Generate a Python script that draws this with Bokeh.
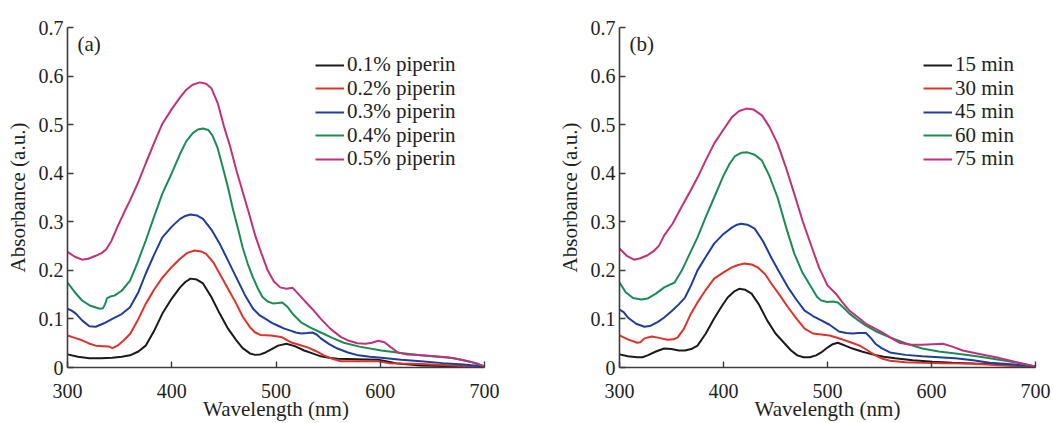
from bokeh.plotting import figure
from bokeh.models import Range1d, FixedTicker, Legend, LegendItem, Label
from bokeh.layouts import row
from bokeh.embed import file_html
from bokeh.resources import INLINE

# ---------------- data: panel (a), piperin concentration ----------------
a_labels = ["0.1% piperin", "0.2% piperin", "0.3% piperin", "0.4% piperin", "0.5% piperin"]

a1_nm = [300, 310, 321, 332, 343, 352, 360, 368, 375, 383, 391, 400, 408, 413, 418, 424, 430, 438, 446, 454,
         462, 468, 475, 480, 485, 490, 495, 502, 510, 518, 527, 535, 543, 551, 559, 578, 598, 608, 617, 628,
         639, 660, 680, 700]
a1_abs = [0.027, 0.022, 0.019, 0.019, 0.02, 0.022, 0.025, 0.033, 0.045, 0.075, 0.111, 0.142, 0.165, 0.176, 0.183, 0.181, 0.173, 0.145, 0.111, 0.08,
          0.056, 0.04, 0.029, 0.026, 0.027, 0.031, 0.037, 0.045, 0.049, 0.044, 0.035, 0.029, 0.023, 0.02, 0.018, 0.017, 0.016, 0.012, 0.008, 0.006,
          0.004, 0.003, 0.002, 0.0]

a2_nm = [300, 307, 314, 320, 327, 334, 340, 343, 348, 354, 360, 368, 375, 383, 391, 400, 408, 415, 422, 428,
         433, 440, 446, 454, 462, 468, 475, 480, 485, 495, 505, 514, 522, 531, 538, 546, 554, 562, 575, 598,
         608, 620, 639, 660, 680, 700]
a2_abs = [0.066, 0.061, 0.056, 0.05, 0.045, 0.044, 0.043, 0.04, 0.045, 0.056, 0.069, 0.1, 0.131, 0.16, 0.185, 0.207, 0.224, 0.236, 0.241, 0.239,
          0.234, 0.216, 0.193, 0.162, 0.131, 0.105, 0.083, 0.072, 0.067, 0.066, 0.063, 0.052, 0.047, 0.041, 0.034, 0.025, 0.018, 0.013, 0.013, 0.013,
          0.009, 0.008, 0.007, 0.005, 0.003, 0.0]

a3_nm = [300, 304, 308, 314, 321, 327, 335, 343, 352, 360, 368, 375, 383, 391, 400, 408, 413, 418, 424, 430,
         438, 446, 454, 462, 470, 478, 484, 490, 496, 502, 508, 514, 519, 524, 530, 535, 539, 543, 551, 559,
         569, 579, 590, 601, 620, 639, 660, 680, 700]
a3_abs = [0.121, 0.117, 0.111, 0.097, 0.085, 0.084, 0.091, 0.1, 0.11, 0.124, 0.155, 0.193, 0.232, 0.268, 0.29, 0.306, 0.312, 0.315, 0.313, 0.306,
          0.284, 0.255, 0.22, 0.185, 0.15, 0.121, 0.108, 0.1, 0.092, 0.086, 0.08, 0.076, 0.072, 0.07, 0.071, 0.072, 0.068, 0.06, 0.048, 0.039,
          0.031, 0.025, 0.022, 0.02, 0.016, 0.013, 0.009, 0.006, 0.002]

a4_nm = [300, 307, 314, 322, 331, 334, 336, 338, 341, 345, 352, 360, 367, 375, 383, 391, 400, 408, 414, 420,
         425, 430, 435, 439, 444, 449, 454, 459, 464, 468, 473, 478, 483, 487, 492, 497, 502, 506, 511, 517,
         524, 533, 543, 554, 565, 580, 601, 620, 639, 655, 671, 686, 700]
a4_abs = [0.175, 0.155, 0.138, 0.127, 0.121, 0.122, 0.13, 0.143, 0.146, 0.148, 0.158, 0.179, 0.215, 0.261, 0.31, 0.358, 0.4, 0.44, 0.466, 0.482,
          0.49, 0.492, 0.489, 0.478, 0.452, 0.412, 0.37, 0.323, 0.282, 0.247, 0.213, 0.185, 0.161, 0.145, 0.136, 0.132, 0.133, 0.134, 0.125, 0.108,
          0.093, 0.082, 0.072, 0.061, 0.051, 0.043, 0.035, 0.03, 0.025, 0.022, 0.019, 0.012, 0.002]

a5_nm = [300, 307, 314, 320, 327, 333, 337, 342, 348, 354, 360, 368, 375, 383, 391, 400, 408, 414, 420, 427,
         433, 438, 444, 450, 456, 462, 468, 474, 480, 486, 492, 498, 504, 510, 516, 522, 528, 535, 543, 552,
         562, 570, 578, 586, 592, 598, 604, 610, 617, 625, 632, 639, 652, 665, 680, 692, 700]
a5_abs = [0.238, 0.228, 0.222, 0.224, 0.23, 0.236, 0.243, 0.26, 0.29, 0.318, 0.344, 0.382, 0.42, 0.462, 0.502, 0.532, 0.556, 0.572, 0.582, 0.587,
          0.584, 0.575, 0.545, 0.497, 0.455, 0.406, 0.362, 0.318, 0.272, 0.235, 0.2, 0.177, 0.165, 0.162, 0.164, 0.15, 0.136, 0.12, 0.1, 0.08,
          0.063, 0.055, 0.05, 0.049, 0.051, 0.055, 0.052, 0.042, 0.031, 0.027, 0.026, 0.025, 0.023, 0.021, 0.015, 0.009, 0.002]

# ---------------- data: panel (b), reaction time ----------------
b_labels = ["15 min", "30 min", "45 min", "60 min", "75 min"]

b1_nm = [300, 308, 317, 322, 327, 335, 343, 350, 357, 363, 369, 375, 383, 391, 398, 404, 410, 415, 421, 427,
         434, 442, 450, 459, 465, 471, 477, 483, 489, 494, 500, 505, 510, 517, 524, 533, 543, 554, 565, 582,
         601, 620, 640, 656, 680, 700]
b1_abs = [0.027, 0.023, 0.021, 0.021, 0.025, 0.033, 0.039, 0.038, 0.035, 0.035, 0.038, 0.045, 0.07, 0.101, 0.125, 0.144, 0.156, 0.162, 0.16, 0.152,
          0.13, 0.097, 0.07, 0.049, 0.035, 0.025, 0.021, 0.021, 0.025, 0.031, 0.041, 0.048, 0.051, 0.045, 0.039, 0.033, 0.027, 0.022, 0.019, 0.015,
          0.012, 0.01, 0.008, 0.007, 0.004, 0.0]

b2_nm = [300, 308, 317, 320, 324, 331, 338, 346, 352, 356, 362, 368, 375, 383, 391, 400, 408, 414, 420, 427,
         433, 440, 446, 454, 462, 470, 478, 486, 494, 502, 514, 522, 531, 538, 546, 553, 560, 575, 591, 610,
         639, 660, 680, 700]
b2_abs = [0.066, 0.058, 0.051, 0.052, 0.06, 0.064, 0.061, 0.057, 0.058, 0.062, 0.08, 0.108, 0.134, 0.16, 0.183, 0.196, 0.206, 0.211, 0.214, 0.212,
          0.206, 0.192, 0.173, 0.149, 0.124, 0.101, 0.08, 0.07, 0.068, 0.066, 0.058, 0.052, 0.045, 0.036, 0.025, 0.018, 0.014, 0.011, 0.01, 0.009,
          0.008, 0.005, 0.003, 0.0]

b3_nm = [300, 304, 308, 316, 324, 330, 337, 343, 350, 357, 363, 369, 375, 383, 391, 400, 408, 413, 417, 423,
         430, 438, 446, 454, 462, 470, 478, 486, 494, 502, 511, 518, 524, 530, 537, 542, 546, 552, 560, 575,
         591, 607, 623, 640, 656, 680, 700]
b3_abs = [0.119, 0.114, 0.103, 0.09, 0.084, 0.086, 0.094, 0.103, 0.116, 0.13, 0.144, 0.17, 0.2, 0.228, 0.255, 0.275, 0.288, 0.294, 0.296, 0.294,
          0.286, 0.26, 0.226, 0.195, 0.165, 0.14, 0.117, 0.106, 0.097, 0.088, 0.074, 0.071, 0.07, 0.071, 0.071, 0.06, 0.049, 0.04, 0.031, 0.026,
          0.023, 0.021, 0.019, 0.015, 0.01, 0.006, 0.002]

b4_nm = [300, 306, 313, 321, 327, 335, 343, 353, 360, 367, 375, 383, 391, 400, 406, 411, 417, 423, 430, 437,
         444, 452, 460, 468, 476, 485, 490, 494, 500, 505, 510, 515, 521, 529, 537, 548, 560, 575, 591, 607,
         623, 640, 656, 680, 700]
b4_abs = [0.175, 0.155, 0.143, 0.14, 0.142, 0.152, 0.165, 0.175, 0.2, 0.232, 0.268, 0.31, 0.35, 0.395, 0.42, 0.435, 0.442, 0.443, 0.438, 0.426,
          0.395, 0.35, 0.29, 0.235, 0.195, 0.163, 0.145, 0.138, 0.135, 0.136, 0.134, 0.124, 0.111, 0.098, 0.086, 0.073, 0.062, 0.05, 0.039, 0.033,
          0.029, 0.024, 0.019, 0.011, 0.002]

b5_nm = [300, 307, 314, 320, 327, 333, 338, 343, 351, 360, 368, 375, 383, 391, 400, 408, 415, 422, 429, 437,
         444, 452, 460, 468, 476, 485, 492, 500, 508, 514, 521, 529, 537, 545, 553, 561, 569, 580, 591, 601,
         611, 620, 630, 646, 662, 680, 700]
b5_abs = [0.245, 0.23, 0.222, 0.225, 0.231, 0.24, 0.251, 0.272, 0.296, 0.332, 0.363, 0.391, 0.427, 0.461, 0.49, 0.515, 0.528, 0.533, 0.531, 0.519,
          0.496, 0.461, 0.412, 0.358, 0.302, 0.247, 0.205, 0.169, 0.152, 0.135, 0.117, 0.104, 0.09, 0.081, 0.072, 0.061, 0.051, 0.047, 0.047, 0.048,
          0.049, 0.043, 0.035, 0.028, 0.021, 0.012, 0.002]

x_ticks = [300, 400, 500, 600, 700]
y_ticks = [0, 0.1, 0.2, 0.3, 0.4, 0.5, 0.6, 0.7]
y_tick_labels = ["0", "0.1", "0.2", "0.3", "0.4", "0.5", "0.6", "0.7"]
x_title = "Wavelength (nm)"
y_title = "Absorbance (a.u.)"

colors = ["#1a1a1a", "#e0322b", "#1f3d9e", "#1a8c52", "#c2307a"]

FONT = "Liberation Serif"
TXT = "#231f20"
AX = "#3c3c3c"


def make_panel(series, labels, tag, width, left, right, legend_x):
    p = figure(width=width, height=423, output_backend="svg", toolbar_location=None,
               x_range=Range1d(300, 700), y_range=Range1d(0, 0.7),
               min_border_left=left, min_border_right=right, min_border_top=27, min_border_bottom=56)
    p.outline_line_color = None
    p.xgrid.visible = False
    p.ygrid.visible = False
    p.background_fill_color = "white"
    p.border_fill_color = "white"

    for ax in (p.xaxis[0], p.yaxis[0]):
        ax.axis_line_color = AX
        ax.axis_line_width = 1.6
        ax.major_tick_line_color = AX
        ax.major_tick_line_width = 1.4
        ax.major_tick_in = 6
        ax.major_tick_out = 0
        ax.minor_tick_line_color = None
        ax.major_label_text_font = FONT
        ax.major_label_text_font_size = "20px"
        ax.major_label_text_color = TXT
        ax.axis_label_text_font = FONT
        ax.axis_label_text_font_size = "21px"
        ax.axis_label_text_font_style = "normal"
        ax.axis_label_text_color = TXT

    p.xaxis[0].ticker = FixedTicker(ticks=x_ticks)
    p.yaxis[0].ticker = FixedTicker(ticks=y_ticks)
    p.yaxis[0].major_label_overrides = {t: s for t, s in zip(y_ticks, y_tick_labels)}
    p.xaxis[0].axis_label = x_title
    p.yaxis[0].axis_label = y_title
    p.xaxis[0].major_label_standoff = 16
    p.yaxis[0].major_label_standoff = 4
    p.xaxis[0].axis_label_standoff = -4
    p.yaxis[0].axis_label_standoff = 6

    # one single-entry legend per series so the rows keep the original 23.6px pitch
    for i, ((xs, ys), lab, c) in enumerate(zip(series, labels, colors)):
        r = p.line(xs, ys, line_color=c, line_width=2)
        leg = Legend(items=[LegendItem(label=lab, renderers=[r])],
                     location=(legend_x, 290 - 23.6 * i), padding=0, margin=0, spacing=0,
                     glyph_width=29, glyph_height=20, label_height=20, label_standoff=3,
                     label_text_font=FONT, label_text_font_size="21px", label_text_color=TXT,
                     background_fill_alpha=0, border_line_color=None)
        p.add_layout(leg)

    p.add_layout(Label(x=309.6, y=0.667, text=tag, text_font=FONT, text_font_size="21px",
                       text_color=TXT, text_align="left", text_baseline="middle"))
    return p


pa = make_panel([(a1_nm, a1_abs), (a2_nm, a2_abs), (a3_nm, a3_abs), (a4_nm, a4_abs), (a5_nm, a5_abs)],
                a_labels, "(a)", 548, 67, 64, 248)
pb = make_panel([(b1_nm, b1_abs), (b2_nm, b2_abs), (b3_nm, b3_abs), (b4_nm, b4_abs), (b5_nm, b5_abs)],
                b_labels, "(b)", 505, 71, 18, 304)

layout = row(pa, pb)
open("out.html", "w").write(file_html(layout, INLINE))
